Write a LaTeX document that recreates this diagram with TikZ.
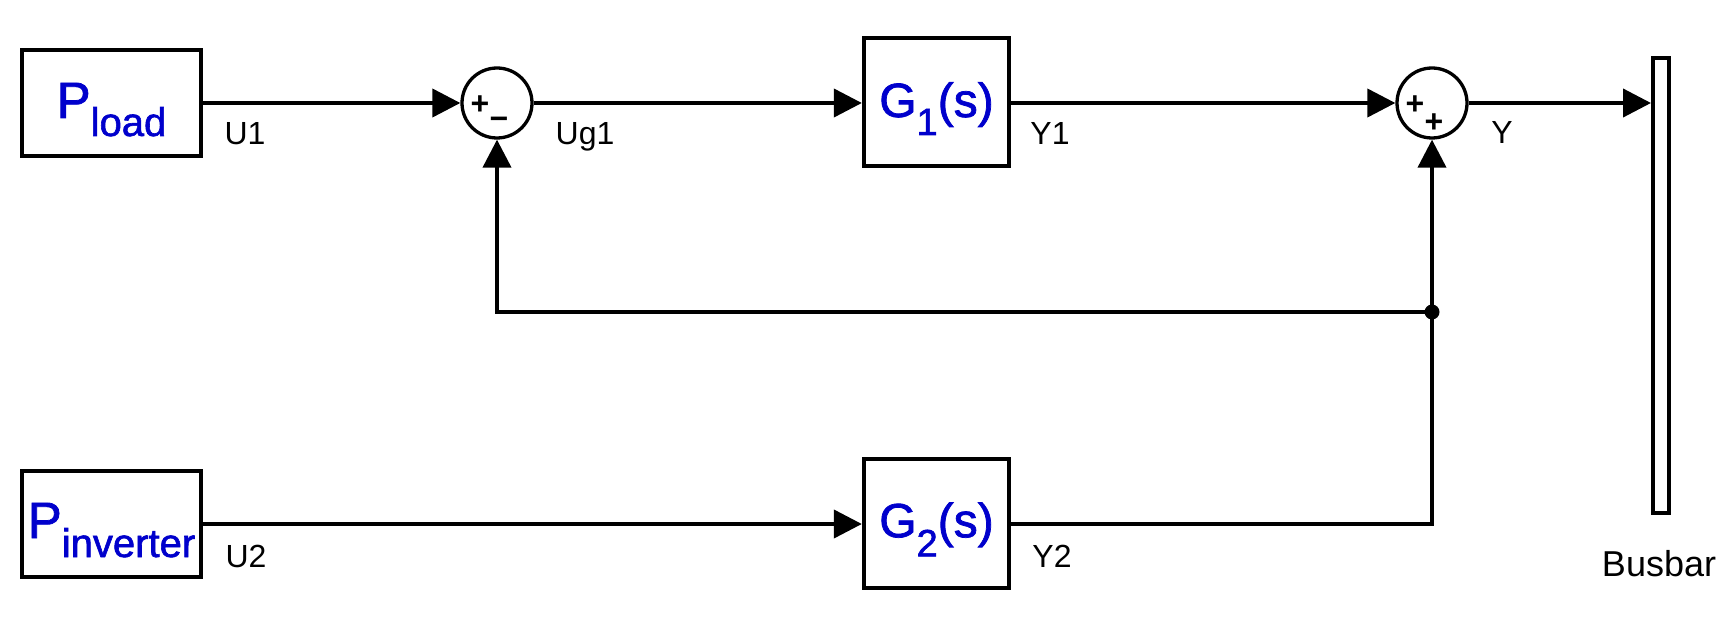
\documentclass[tikz,border=0pt]{standalone}
\usepackage{fontspec}
\setmainfont{Liberation Sans}
\newfontfamily\heavyfont[FakeBold=1.5]{Liberation Sans}
\usetikzlibrary{arrows.meta}
\definecolor{tblue}{RGB}{0,0,204}
\begin{document}
\begin{tikzpicture}[x=1pt,y=-1pt,
  box/.style={draw, line width=4.3pt, inner sep=0pt, text depth=10pt, text=tblue, font=\heavyfont},
  conn/.style={line width=4pt, -{Triangle[length=28pt,width=28pt]}},
  sumc/.style={draw, circle, line width=3.3pt, minimum size=70pt, inner sep=0pt},
  lbl/.style={font=\fontsize{32}{32}\selectfont, anchor=base, inner sep=0pt},
  sign/.style={font=\fontsize{32}{32}\selectfont\bfseries, inner sep=0pt}]
\fill[white] (0,0) rectangle (1734,628);
\useasboundingbox (0,0) rectangle (1734,628);
% blocks
\node[box, text height=40pt, minimum width=179pt, minimum height=106pt] (pload) at (111.5,103)
  {{\fontsize{51}{51}\selectfont P}\raisebox{-18pt}{\fontsize{40}{40}\selectfont load}};
\node[box, text height=38pt, minimum width=179pt, minimum height=106pt] (pinv) at (111.5,524)
  {{\fontsize{51}{51}\selectfont P}\raisebox{-19pt}{\fontsize{40}{40}\selectfont inverter}};
\node[box, text height=40pt, minimum width=145pt, minimum height=128pt] (g1) at (936.5,102)
  {{\fontsize{48}{48}\selectfont G}\raisebox{-18pt}{\fontsize{38}{38}\selectfont 1}{\fontsize{48}{48}\selectfont (s)}};
\node[box, text height=37.5pt, minimum width=145pt, minimum height=129pt] (g2) at (936.5,523.5)
  {{\fontsize{48}{48}\selectfont G}\raisebox{-19pt}{\fontsize{38}{38}\selectfont 2}{\fontsize{48}{48}\selectfont (s)}};
\node[sumc] (s1) at (497,103) {};
\node[sumc] (s2) at (1432,103) {};
\node[draw, line width=4pt, minimum width=16pt, minimum height=455pt, inner sep=0pt] (bus) at (1661,285.5) {};
% signs
\node[sign] (s1p) at (480,105) {+};
\node[sign] (s1m) at (499,123) {−};
\node[sign] (s2p) at (1415,105) {+};
\node[sign] (s2q) at (1434,123) {+};
% connectors
\coordinate (j) at (1432,312);
\draw[conn] (pload.east) -- (s1.west);
\draw[conn] (s1.east) -- (s1.east -| g1.west);
\draw[conn] (g1.east |- s2.west) -- (s2.west);
\draw[conn] (s2.east) -- (s2.east -| bus.west);
\draw[conn] (pinv.east) -- (pinv.east -| g2.west);
\draw[conn] (g2.east |- pinv.east) -| (s2.south);
\draw[conn] (j) -| (s1.south);
\fill (j) circle (7.5pt);
% labels
\node[lbl] (u1) at (245,145) {U1};
\node[lbl] (ug1) at (585,145) {Ug1};
\node[lbl] (y1) at (1050,145) {Y1};
\node[lbl] (y) at (1502,144) {Y};
\node[lbl] (u2) at (246,567) {U2};
\node[lbl] (y2) at (1052,567) {Y2};
\node[lbl, font=\fontsize{36}{36}\selectfont] (busl) at (1659,576) {Busbar};
\end{tikzpicture}
\end{document}
